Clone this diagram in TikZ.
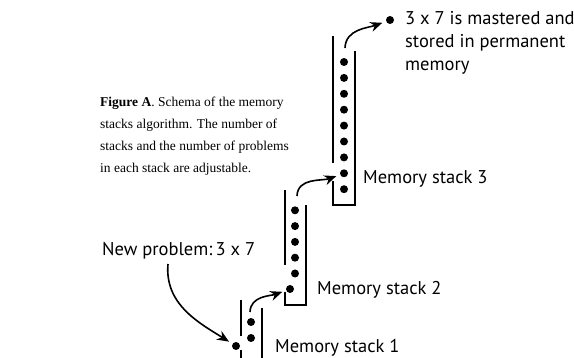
\documentclass[tikz,border=0pt]{standalone}
\usepackage{fontspec}
\setmainfont{Liberation Serif}
\newfontfamily\labelfont{PT Sans}
\usetikzlibrary{arrows.meta}

\begin{document}
\begin{tikzpicture}[x=1pt, y=-1pt,
    wall/.style={line width=1.6pt},
    bead/.style={circle, fill=black, inner sep=0pt, minimum size=8pt},
    stacklabel/.style={anchor=base west, inner sep=0pt, align=left,
        font=\labelfont\fontsize{18.5}{23}\selectfont},
    move/.style={-{Stealth[length=12pt, width=10pt]}, line width=1.6pt, shorten >=4pt}]
    \useasboundingbox (0,0) rectangle (574,358);

    % --- Caption ---
    \node[anchor=base west, inner sep=0pt, align=left,
          font=\fontsize{13.5}{22}\selectfont] (caption) at (100,173)
        {\textbf{Figure A}. Schema of the memory\\
         stacks algorithm. The number of\\
         stacks and the number of problems\\
         in each stack are adjustable.};

    % --- Stack 1 ---
    \draw[wall] (241,300) -- (241,336);
    \draw[wall] (241,350) -- (241,362);
    \draw[wall] (262,308) -- (262,362);
    \node[bead] (s1d1) at (251,322) {};
    \node[bead] (s1d2) at (251,338) {};
    \node[bead] (s1in) at (236,346) {};
    \coordinate (s1top) at (250,312);
    \node[stacklabel] (s1lab) at (275,353) {Memory stack 1};

    % --- Stack 2 ---
    \draw[wall] (285,190) -- (285,265);
    \draw[wall] (285,292) -- (285,305) -- (306,305) -- (306,205);
    \foreach \i in {1,...,5}
        \node[bead] (s2d\i) at (295,194.5+15.8*\i) {};
    \node[bead] (s2in) at (290,289) {};
    \coordinate (s2top) at (297,196);
    \node[stacklabel] (s2lab) at (317,295) {Memory stack 2};

    % --- Stack 3 ---
    \draw[wall] (333,36) -- (333,163);
    \draw[wall] (333,181) -- (333,205) -- (355,205) -- (355,51);
    \foreach \i in {1,...,9}
        \node[bead] (s3d\i) at (344,46.1+15.9*\i) {};
    \coordinate (s3top) at (345,48);
    \node[stacklabel] (s3lab) at (363,184) {Memory stack 3};

    % --- Permanent memory ---
    \node[bead] (done) at (390,20) {};
    \node[stacklabel] (donelab) at (405,71)
        {3 x 7 is mastered and\\stored in permanent\\memory};

    % --- New problem ---
    \node[stacklabel] (newlab) at (102,256) {New problem:\,3 x 7};
    \coordinate (newstart) at (168,264);

    % --- Moves ---
    \draw[move] (newstart) to[out=-95, in=148] (s1in);
    \draw[move] (s1top) to[out=88, in=200] (s2in);
    \draw[move] (s2top) to[out=88, in=200] (s3d8);
    \draw[move] (s3top) to[out=88, in=200] (done);
\end{tikzpicture}
\end{document}
